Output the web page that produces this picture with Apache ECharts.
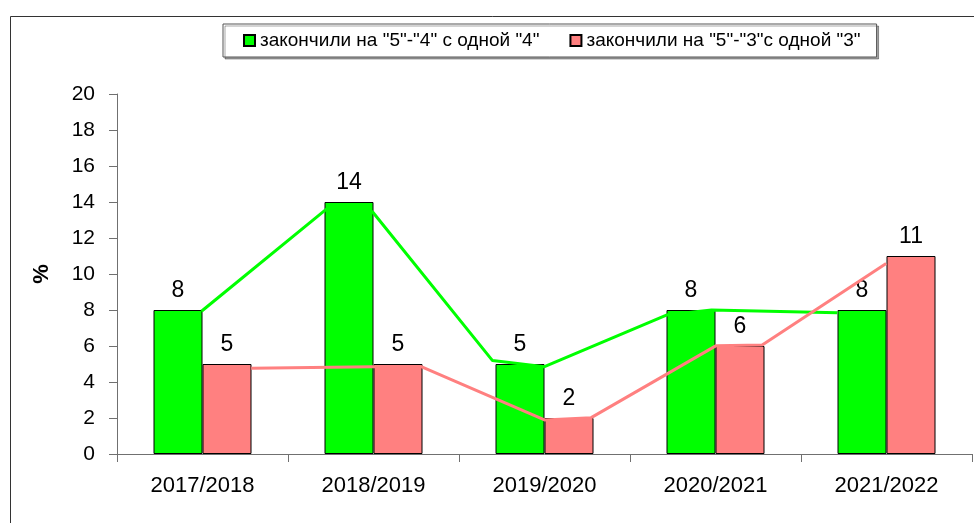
<!DOCTYPE html>
<html lang="ru">
<head>
<meta charset="UTF-8">
<title>chart</title>
<script src="https://cdn.jsdelivr.net/npm/echarts@6/dist/echarts.min.js"></script>
<style>
  html, body { margin: 0; padding: 0; background: #fff; }
  #main { width: 974px; height: 523px; }
</style>
</head>
<body>
<div id="main"></div>
<script>
// data
const years = ['2017/2018', '2018/2019', '2019/2020', '2020/2021', '2021/2022'];
const with4 = [8, 14, 5, 8, 8];   // закончили на "5"-"4" с одной "4"
const with3 = [5, 5, 2, 6, 11];   // закончили на "5"-"3" с одной "3"
const yTicks = [0, 2, 4, 6, 8, 10, 12, 14, 16, 18, 20];

// hand-drawn trend lines, vertices in category units (0..5) and %
const greenLineX = [0.494, 1.23, 1.494, 2.196, 2.5, 3.213, 3.477, 4.213];
const greenLineY = [7.93, 13.65, 13.46, 5.19, 4.85, 7.72, 8.0, 7.85];
const pinkLineX = [0.785, 1.494, 1.779, 2.5, 2.773, 3.504, 3.773, 4.498];
const pinkLineY = [4.76, 4.85, 4.85, 1.89, 2.02, 6.02, 6.06, 10.59];

const font = 'Liberation Sans, Arial, sans-serif';
const zip = (xs, ys) => xs.map((x, i) => [x, ys[i]]);

let myChart = echarts.init(document.getElementById('main'));

myChart.setOption({
  animation: false,
  backgroundColor: '#fff',
  textStyle: { fontFamily: font },
  graphic: [{
    type: 'rect', left: 8, top: 14, z: -10,
    shape: { width: 990, height: 540 },
    style: { fill: 'none', stroke: '#333', lineWidth: 1 }
  }],
  legend: {
    data: ['закончили на "5"-"4" с одной "4"', 'закончили на "5"-"3"с одной "3"'],
    left: 223, top: 24,
    padding: [7, 16, 7, 20],
    itemGap: 30,
    itemWidth: 11, itemHeight: 11,
    icon: 'rect',
    backgroundColor: '#fff',
    borderColor: '#555', borderWidth: 1,
    shadowColor: 'rgba(0,0,0,0.35)', shadowOffsetX: 2, shadowOffsetY: 2, shadowBlur: 0,
    textStyle: { fontSize: 19, color: '#000', fontFamily: font }
  },
  grid: { left: 117, right: 2, top: 94, bottom: 69 },
  xAxis: [{
    type: 'category',
    data: years,
    axisLine: { lineStyle: { color: '#707070', width: 1 } },
    axisTick: { show: true, length: 8, lineStyle: { color: '#707070' } },
    axisLabel: { fontSize: 22, color: '#000', margin: 21 }
  }, {
    type: 'value', min: 0, max: 5, show: false
  }],
  yAxis: {
    type: 'value',
    min: yTicks[0], max: yTicks[yTicks.length - 1], interval: 2,
    name: '%',
    nameLocation: 'middle',
    nameGap: 64,
    nameRotate: 90,
    nameTextStyle: { fontSize: 22, fontWeight: 'bold', color: '#000' },
    axisLine: { show: true, lineStyle: { color: '#707070', width: 1 } },
    axisTick: { show: true, length: 8, lineStyle: { color: '#707070' } },
    splitLine: { show: false },
    axisLabel: { fontSize: 21, color: '#000', margin: 22 }
  },
  series: [{
    name: 'закончили на "5"-"4" с одной "4"',
    type: 'bar',
    data: with4,
    barWidth: 49,
    barGap: '0%',
    itemStyle: { color: '#00ff00', borderColor: '#000', borderWidth: 1 },
    label: { show: true, position: 'top', distance: 8, fontSize: 23, color: '#000' }
  }, {
    name: 'закончили на "5"-"3"с одной "3"',
    type: 'bar',
    data: with3,
    barWidth: 49,
    barGap: '0%',
    itemStyle: { color: '#ff8080', borderColor: '#000', borderWidth: 1 },
    label: { show: true, position: 'top', distance: 8, fontSize: 23, color: '#000' }
  }, {
    name: 'green line',
    type: 'line',
    xAxisIndex: 1,
    data: zip(greenLineX, greenLineY),
    symbol: 'none',
    z: 5,
    lineStyle: { color: '#00ff00', width: 3 }
  }, {
    name: 'pink line',
    type: 'line',
    xAxisIndex: 1,
    data: zip(pinkLineX, pinkLineY),
    symbol: 'none',
    z: 5,
    lineStyle: { color: '#ff8080', width: 3 }
  }]
});
</script>
</body>
</html>
